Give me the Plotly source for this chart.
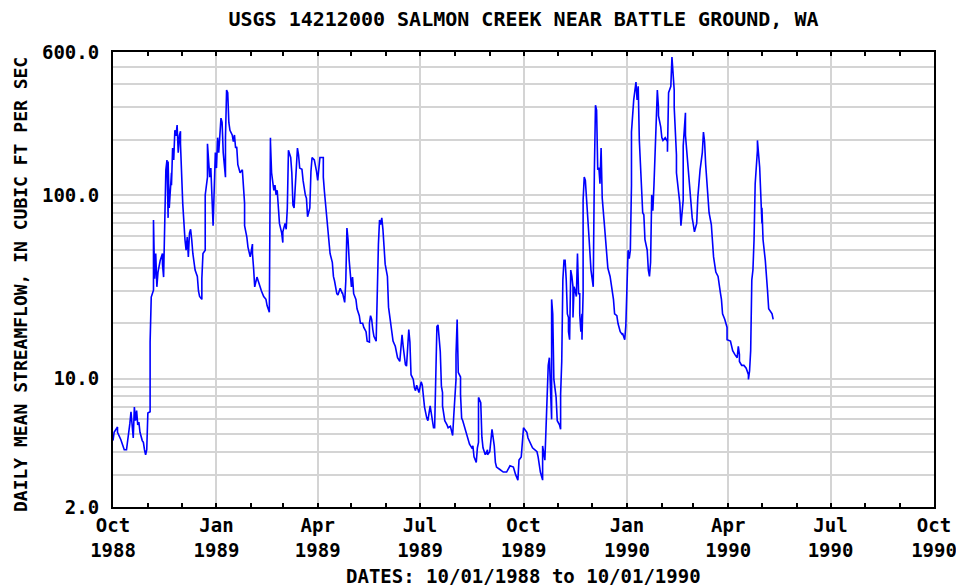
import pandas as pd
import plotly.graph_objects as go

title = "USGS 14212000 SALMON CREEK NEAR BATTLE GROUND, WA"
y_title = "DAILY MEAN STREAMFLOW, IN CUBIC FT PER SEC"
x_title = "DATES: 10/01/1988 to 10/01/1990"
start_date = "1988-10-01"
end_date = "1990-10-01"

# days since 1988-10-01
days = [0, 1, 4, 4, 7, 10, 12, 13, 15, 16, 17, 18, 19, 20, 21, 22, 23, 24, 26, 27,
        28, 29, 30, 31, 33, 33, 34, 36, 36, 37, 38, 39, 40, 42, 44, 44, 45, 46, 47, 47,
        48, 49, 49, 50, 52, 52, 53, 54, 55, 56, 57, 58, 59, 60, 60, 61, 62, 64, 65, 66,
        67, 68, 69, 70, 71, 73, 75, 76, 77, 79, 79, 80, 82, 82, 84, 84, 85, 86, 87, 88,
        89, 91, 92, 93, 94, 96, 97, 98, 99, 100, 100, 101, 102, 103, 104, 106, 107, 108, 109, 110,
        111, 113, 115, 116, 117, 117, 119, 120, 122, 124, 124, 125, 126, 128, 129, 131, 132, 134, 136, 137,
        139, 140, 140, 141, 142, 143, 144, 145, 146, 147, 148, 148, 150, 151, 151, 153, 154, 155, 155, 156,
        158, 159, 160, 161, 164, 164, 165, 166, 168, 169, 171, 172, 173, 175, 176, 177, 179, 180, 181, 182,
        184, 187, 187, 188, 190, 191, 193, 195, 196, 197, 199, 200, 202, 204, 204, 206, 207, 208, 209, 210,
        212, 212, 213, 214, 216, 217, 219, 220, 222, 223, 225, 226, 228, 228, 229, 230, 231, 232, 234, 235,
        236, 237, 238, 239, 240, 242, 244, 245, 246, 248, 249, 251, 252, 253, 255, 257, 258, 260, 261, 262,
        263, 264, 265, 267, 268, 269, 270, 272, 274, 275, 276, 277, 279, 280, 282, 284, 285, 286, 288, 289,
        291, 292, 293, 293, 295, 297, 298, 300, 301, 302, 303, 305, 305, 306, 307, 309, 309, 310, 311, 313,
        315, 316, 317, 319, 320, 321, 323, 324, 325, 325, 327, 328, 329, 331, 333, 333, 335, 337, 338, 339,
        340, 341, 344, 347, 350, 351, 353, 356, 357, 358, 360, 361, 363, 364, 365, 366, 368, 369, 371, 373,
        377, 378, 380, 381, 382, 382, 384, 385, 386, 387, 388, 389, 390, 390, 391, 392, 394, 395, 397, 398,
        398, 399, 400, 401, 402, 403, 404, 405, 405, 406, 407, 408, 409, 409, 410, 411, 412, 413, 414, 415,
        415, 416, 417, 417, 418, 418, 419, 420, 422, 423, 425, 426, 427, 428, 429, 430, 431, 432, 433, 434,
        435, 437, 438, 440, 442, 444, 445, 446, 448, 449, 451, 453, 453, 455, 456, 457, 458, 459, 460, 461,
        461, 463, 465, 466, 467, 468, 469, 470, 471, 472, 473, 473, 475, 476, 477, 478, 479, 480, 481, 482,
        483, 484, 485, 485, 487, 488, 489, 491, 493, 493, 494, 496, 497, 498, 499, 499, 501, 501, 503, 504,
        505, 507, 507, 509, 509, 510, 512, 513, 515, 516, 517, 519, 520, 522, 524, 525, 526, 527, 528, 530,
        532, 533, 533, 534, 536, 538, 540, 541, 542, 544, 546, 546, 549, 550, 551, 553, 555, 556, 557, 557,
        559, 561, 563, 565, 565, 566, 567, 568, 569, 570, 571, 573, 573, 575, 576, 577, 577, 578, 580, 581,
        582, 583, 586, 587]

flow = [4.6, 5.1, 5.45, 5.1, 4.65, 4.1, 4.1, 4.5, 5.7, 6.6, 5.3, 4.75, 7.0, 5.9, 6.7, 5.6, 5.8, 5.1, 4.6, 4.5,
        4.1, 3.85, 4.1, 6.5, 6.6, 15.8, 27.8, 30.3, 73, 35, 48, 31.6, 38, 44, 48, 42, 35.7, 73, 94, 137,
        155, 75, 152, 85, 132, 113, 180, 155, 225, 210, 240, 170, 210, 222, 190, 113, 90, 57, 50, 59,
        46, 62, 65, 57, 48, 39, 36, 30, 28, 27, 35, 48, 50, 100, 125, 190, 160, 125, 140, 94,
        68, 170, 140, 205, 170, 262, 248, 170, 140, 125, 205, 372, 360, 248, 225, 212, 195, 212, 180, 183,
        146, 132, 137, 106, 90, 68, 59, 52, 46, 54, 48, 40, 31.6, 35.7, 34, 31.6, 30, 28, 27, 25,
        23, 205, 195, 132, 113, 106, 113, 100, 106, 90, 75, 70, 62, 55, 63, 70, 65, 80, 85, 175,
        160, 132, 88, 85, 160, 180, 165, 140, 138, 120, 100, 96, 76, 85, 134, 160, 155, 146, 134, 120,
        160, 160, 125, 104, 75, 62, 48, 43, 36, 34, 29, 28.5, 31, 29, 29.5, 26, 34, 66, 57, 44,
        33, 31.6, 35.7, 29, 27, 24, 22, 20, 20, 19, 18, 16, 15.8, 20, 22, 21, 18.5, 17, 16, 33,
        54, 73, 69, 75, 65, 42, 36, 24.5, 22, 18, 16, 15, 14.2, 13, 12.4, 17.3, 15, 11.9, 11.7, 16,
        18.5, 15.8, 10.5, 9.9, 8.9, 8.6, 9.2, 8.4, 9.6, 9.2, 8.2, 7.0, 6.1, 5.9, 7.1, 6.0, 5.4, 5.4, 19.2, 19.6,
        14, 9.1, 8.4, 7.1, 5.9, 5.6, 5.4, 5.5, 5.1, 4.9, 6.3, 9.9, 13.5, 21, 10.8, 10.2, 8.2, 6.1, 5.9, 5.3,
        4.8, 4.65, 4.4, 4.2, 4.3, 3.75, 3.5, 4.2, 4.5, 7.9, 7.4, 4.8, 4.2, 3.85, 4.1, 3.85, 4.0, 5.3, 4.75, 4.3,
        3.5, 3.3, 3.2, 3.1, 3.1, 3.2, 3.35, 3.3, 3.1, 3.0, 2.8, 3.6, 3.75, 4.4, 5.4, 5.3, 5.1, 4.75, 4.5, 4.2,
        4.0, 3.75, 3.1, 2.95, 2.8, 4.3, 3.6, 5.3, 8.6, 11.8, 13, 8.6, 6.0, 27, 22.5, 9.9, 7.9, 5.9, 5.6, 5.3,
        8.2, 12.4, 34.5, 44, 44, 34.5, 22.5, 21.5, 18, 16.3, 39, 36, 31.6, 21.5, 31.6, 30, 28, 48, 29, 29,
        22.5, 18, 22.5, 16.3, 29, 94, 125, 120, 82, 62, 39, 34.5, 31.6, 132, 308, 290, 137, 141, 115, 180,
        96, 68, 55, 40, 36, 29, 27, 22.5, 22, 20, 18, 17.3, 17.7, 16.3, 19.5, 31.6, 50, 45, 50, 113,
        220, 329, 412, 329, 390, 198, 146, 90, 80, 78, 62, 57, 50, 39, 36, 43, 100, 82, 113, 175,
        265, 372, 300, 270, 235, 205, 198, 205, 195, 172, 360, 390, 563, 445, 372, 300, 165, 132, 100, 90,
        68, 94, 185, 280, 212, 175, 132, 100, 75, 69, 63, 70, 97, 137, 170, 220, 195, 146, 115, 80,
        69, 59, 55, 46, 38, 36, 29.5, 27, 22.5, 21, 19, 16.3, 16, 15, 14.2, 13.5, 13, 15, 13.5, 12.4,
        11.8, 11.8, 11.4, 10.5, 9.9, 11, 14.2, 34.5, 39, 57, 115, 175, 198, 141, 90, 70, 85, 57, 44, 33,
        30, 24, 22.5, 21]

x_tick_dates = ["1988-10-01", "1989-01-01", "1989-04-01", "1989-07-01", "1989-10-01",
                "1990-01-01", "1990-04-01", "1990-07-01", "1990-10-01"]
x_tick_text = ["Oct<br>1988", "Jan<br>1989", "Apr<br>1989", "Jul<br>1989", "Oct<br>1989",
               "Jan<br>1990", "Apr<br>1990", "Jul<br>1990", "Oct<br>1990"]
y_tick_vals = [2, 10, 100, 600]
y_tick_text = ["2.0", "10.0", "100.0", "600.0"]
y_grid_vals = [3, 4, 5, 6, 7, 8, 9, 20, 30, 40, 50, 60, 70, 80, 90, 200, 300, 400, 500]

dates = pd.Timestamp(start_date) + pd.to_timedelta(days, unit="D")

FONT = "DejaVu Sans Mono"
GRID = "#d4d4d4"
W, H = 956, 586
L, R, T, B = 113, 22, 52, 79

fig = go.Figure()
fig.add_trace(go.Scatter(x=dates, y=flow, mode="lines",
                         line=dict(color="#0000ff", width=1.6), showlegend=False,
                         hoverinfo="skip"))

fig.update_layout(
    width=W, height=H,
    margin=dict(l=L, r=R, t=T, b=B, pad=0, autoexpand=False),
    paper_bgcolor="white", plot_bgcolor="white",
    font=dict(family=FONT, color="black", size=19),
    title=dict(text="<b>" + title + "</b>", x=0.5, xref="paper", xanchor="center",
               y=1 - 19 / H, yref="container", yanchor="middle",
               font=dict(family=FONT, size=20, color="black")),
    showlegend=False,
)

fig.update_xaxes(
    type="date", range=[start_date, end_date], automargin=False,
    tickmode="array", tickvals=x_tick_dates,
    ticktext=["<b>" + t.replace("<br>", "</b><br><b>") + "</b>" for t in x_tick_text],
    tickfont=dict(family=FONT, size=19, color="black"),
    ticklabeloverflow="allow",
    showgrid=True, gridcolor=GRID, gridwidth=2,
    showline=True, linecolor="black", linewidth=2, mirror="ticks",
    ticks="inside", ticklen=4, tickcolor="black", tickwidth=1.5,
    minor=dict(dtick="M1", tick0=start_date, ticks="inside", ticklen=4,
               tickcolor="black", tickwidth=1.5, showgrid=False),
    zeroline=False,
)

fig.update_yaxes(
    type="log", range=[0.30103, 2.77815], automargin=False,
    tickmode="array", tickvals=y_tick_vals, ticktext=["<b>" + t + "</b>" for t in y_tick_text],
    tickfont=dict(family=FONT, size=19, color="black"),
    showgrid=True, gridcolor=GRID, gridwidth=2,
    showline=True, linecolor="black", linewidth=2, mirror="ticks",
    ticks="", ticklabelstandoff=8,
    minor=dict(tickmode="array", tickvals=y_grid_vals, showgrid=True,
               gridcolor=GRID, gridwidth=2, ticks=""),
    zeroline=False,
)

pw = W - L - R
ph = H - T - B
fig.add_annotation(text="<b>" + y_title + "</b>", textangle=-90,
                   x=(20 - L) / pw, xref="paper", xanchor="center",
                   y=(H - B - 285) / ph, yref="paper", yanchor="middle",
                   showarrow=False, font=dict(family=FONT, size=18, color="black"))

fig.add_annotation(text="<b>" + x_title + "</b>", x=0.5, xref="paper",
                   y=((H - B) - 576) / ph, yref="paper", yanchor="middle",
                   showarrow=False, font=dict(family=FONT, size=19, color="black"))

fig.write_html("out.html",
               config={"displayModeBar": False},
               post_script="document.body.style.margin='0px';document.body.style.overflow='hidden';")
